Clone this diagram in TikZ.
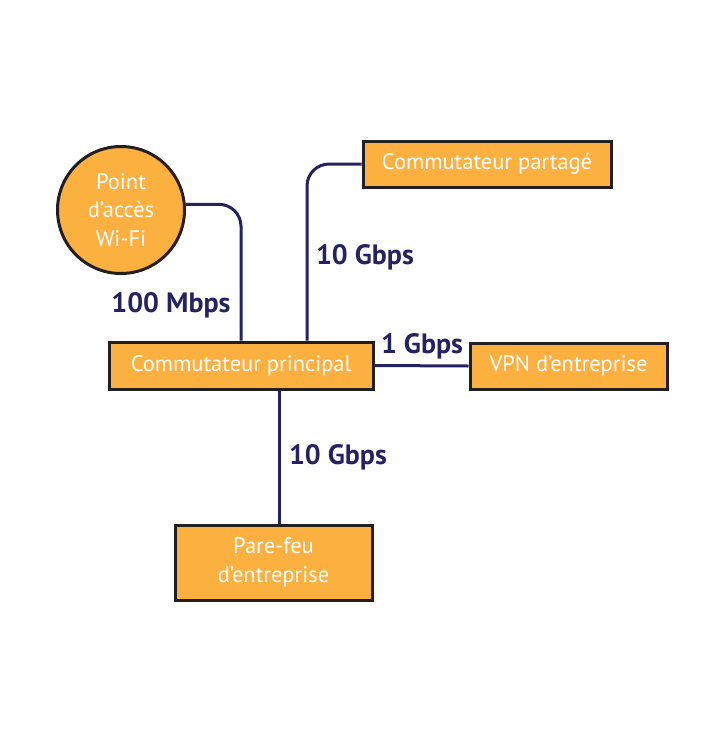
\documentclass[tikz,border=0pt]{standalone}
\usepackage{fontspec}
\setmainfont{PT Sans}
\usetikzlibrary{backgrounds}
\definecolor{boxfill}{HTML}{FBB040}
\definecolor{boxline}{HTML}{231F20}
\definecolor{navy}{HTML}{262262}
\tikzset{
  box/.style={draw=boxline, line width=3pt, fill=boxfill, text=white, font=\fontsize{22.5}{28.5}\selectfont, align=center, inner sep=0pt},
  link/.style={draw=navy, line width=3pt, rounded corners=22pt},
  lbl/.style={text=navy, font=\fontsize{28}{30}\selectfont\bfseries, inner sep=0pt}
}
\begin{document}
\begin{tikzpicture}[x=1pt,y=-1pt]
\useasboundingbox (0,0) rectangle (710,729);
\node[box, circle, minimum size=127pt] (wifi) at (121,210) {Point\\d’accès\\Wi-Fi};
\node[box, minimum width=264pt, minimum height=47pt] (main) at (241,365.5) {Commutateur principal};
\node[box, minimum width=248pt, minimum height=46pt] (shared) at (487,164) {Commutateur partagé};
\node[box, minimum width=197pt, minimum height=46pt] (vpn) at (568.5,366) {VPN d’entreprise};
\node[box, minimum width=197pt, minimum height=75pt] (fw) at (273.5,562.5) {Pare-feu\\d’entreprise};
\begin{scope}[on background layer]
\draw[link] (wifi.5) -| (main.north);
\draw[link] (shared.west) -| ([xshift=66pt]main.north);
\draw[link] (main.east) -- (vpn.west);
\draw[link] ([xshift=38pt]main.south) -- ([xshift=38pt]main.south |- fw.north);
\end{scope}
\node[lbl] (l100) at (171,305) {100 Mbps};
\node[lbl] (l10a) at (365,257) {10 Gbps};
\node[lbl] (l1) at (422,346) {1 Gbps};
\node[lbl] (l10b) at (338,457) {10 Gbps};
\end{tikzpicture}
\end{document}
